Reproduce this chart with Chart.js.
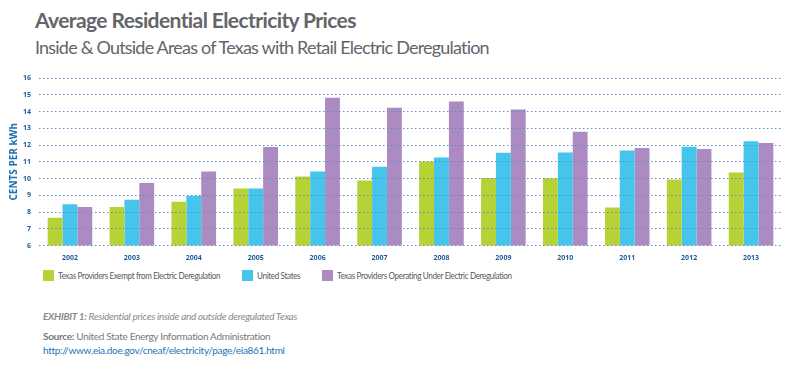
<!DOCTYPE html>
<html>
<head>
<meta charset="utf-8">
<script src="https://cdn.jsdelivr.net/npm/chart.js@4"></script>
<style>
  body { margin: 0; width: 800px; height: 366px; background: #fff; position: relative; overflow: hidden; font-family: Lato, "Open Sans", sans-serif; }
  .title { position: absolute; left: 35px; top: 7px; font-size: 21px; font-weight: bold; color: #646569; letter-spacing: -0.6px; }
  .sub { position: absolute; left: 35px; top: 36px; font-size: 18px; color: #646569; letter-spacing: -0.8px; }
  #wrap { position: absolute; left: 0; top: 60px; width: 800px; height: 207px; }
  .foot { position: absolute; left: 43px; color: #8a8a8c; font-size: 10px; white-space: nowrap; }
  .leg { position: absolute; top: 270px; height: 11px; }
  .leg .box { position: absolute; left: 0; top: 0; width: 11px; height: 11px; }
  .leg .txt { position: absolute; left: 15px; top: -1px; font-size: 9.5px; line-height: 13px; color: #58595b; letter-spacing: -0.4px; white-space: nowrap; transform: scaleX(0.85); transform-origin: left center; }
</style>
</head>
<body>
<div class="title">Average Residential Electricity Prices</div>
<div class="sub">Inside &amp; Outside Areas of Texas with Retail Electric Deregulation</div>
<div id="wrap"><canvas id="myChart"></canvas></div>
<div id="legend"></div>
<div class="foot" style="top:310px;font-style:italic;letter-spacing:-0.3px;"><b>EXHIBIT 1:</b> Residential prices inside and outside deregulated Texas</div>
<div class="foot" style="top:330px;color:#77787b;letter-spacing:-0.3px;"><b>Source:</b> United State Energy Information Administration</div>
<div class="foot" style="top:344px;color:#1b75bb;letter-spacing:-0.3px;">http://www.eia.doe.gov/cneaf/electricity/page/eia861.html</div>

<script>
// values, cents per kWh
const years = ['2002','2003','2004','2005','2006','2007','2008','2009','2010','2011','2012','2013'];
const exempt = [7.66, 8.3, 8.62, 9.4, 10.12, 9.88, 11.02, 10.04, 10.02, 8.28, 9.94, 10.36];
const unitedStates = [8.46, 8.74, 8.98, 9.4, 10.42, 10.7, 11.26, 11.54, 11.56, 11.68, 11.9, 12.22];
const dereg = [8.3, 9.74, 10.42, 11.88, 14.82, 14.22, 14.6, 14.12, 12.8, 11.82, 11.76, 12.12];
const seriesNames = ['Texas Providers Exempt from Electric Deregulation', 'United States', 'Texas Providers Operating Under Electric Deregulation'];
const colors = ['#b6d235', '#45c4ec', '#ac8bc2'];

const ctx = document.getElementById('myChart').getContext('2d');
const myChart = new Chart(ctx, {
	type: 'bar',
	data: {
		labels: years,
		datasets: [exempt, unitedStates, dereg].map((d, i) => ({
			label: seriesNames[i],
			data: d,
			backgroundColor: colors[i],
			borderWidth: 0
		}))
	},
	options: {
		responsive: true,
		maintainAspectRatio: false,
		animation: false,
		layout: { padding: { top: 18, right: 18, left: 6, bottom: 5 } },
		datasets: { bar: { categoryPercentage: 0.72, barPercentage: 1.0 } },
		plugins: {
			tooltip: { enabled: false },
			legend: { display: false }
		},
		scales: {
			x: {
				grid: { display: false },
				border: { display: false },
				ticks: { color: '#1f5c9c', font: { size: 7, weight: 'bold', family: 'Open Sans' }, padding: 0 }
			},
			y: {
				min: 6,
				max: 16,
				afterFit: s => { s.width = 33; },
				grid: { color: '#5b8ec6', lineWidth: 1, z: 1, drawTicks: false },
				border: { display: false, dash: [1.5, 2.5] },
				ticks: { stepSize: 1, color: '#1f5c9c', font: { size: 7, weight: 'bold', family: 'Open Sans' }, padding: 8 },
				title: { display: true, text: 'CENTS PER kWh', color: '#1b6fb5', font: { size: 10, weight: 'bold', family: 'Open Sans' }, padding: 2 }
			}
		}
	}
});

// legend built from the chart's own datasets
const legendX = [43, 242, 322];
document.getElementById('legend').innerHTML = myChart.data.datasets.map((ds, i) =>
	`<div class="leg" style="left:${legendX[i]}px"><div class="box" style="background:${ds.backgroundColor}"></div><div class="txt">${ds.label}</div></div>`
).join('');
</script>
</body>
</html>
